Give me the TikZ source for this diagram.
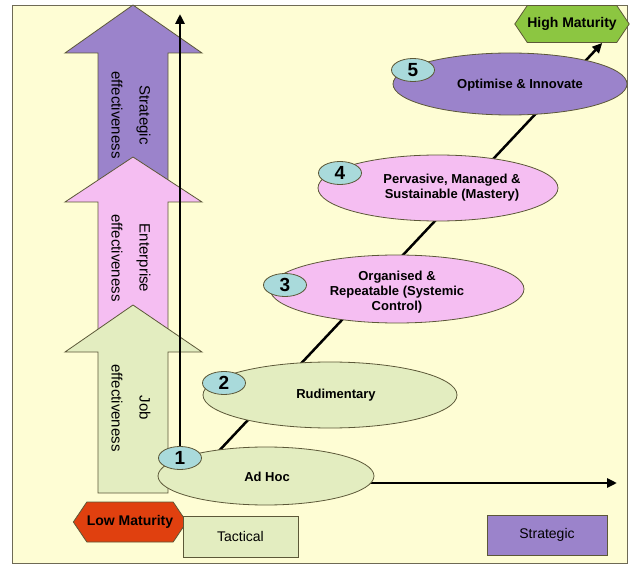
\documentclass[tikz,border=0pt]{standalone}
\usepackage{fontspec}
\setmainfont{Liberation Sans}
\usetikzlibrary{shapes.geometric,shapes.symbols,arrows.meta}

\definecolor{bgyellow}{HTML}{FEFDD4}
\definecolor{framegray}{HTML}{6E6A55}
\definecolor{edgegray}{HTML}{5C5838}
\definecolor{paleGreen}{HTML}{E3EDC0}
\definecolor{pinkish}{HTML}{F5BEF2}
\definecolor{lavender}{HTML}{9B83CB}
\definecolor{numblue}{HTML}{A9DADB}
\definecolor{lowred}{HTML}{E0400F}
\definecolor{highgreen}{HTML}{8CC641}

\begin{document}
\begin{tikzpicture}[x=1pt,y=-1pt,
  outline/.style={draw=edgegray, line width=0.8pt},
  stage/.style={ellipse, outline, inner sep=0pt},
  num/.style={ellipse, outline, fill=numblue, minimum width=43pt,
    minimum height=23pt, inner sep=0pt,
    font=\bfseries\fontsize{19}{19}\selectfont},
  stagetext/.style={align=center, inner sep=1pt,
    font=\bfseries\fontsize{13}{15}\selectfont},
  armtext/.style={align=center, rotate=-90, inner sep=1pt,
    font=\fontsize{15}{28}\selectfont},
  hexa/.style={shape=signal, signal to=west and east,
    signal pointer angle=112, outline, inner sep=0pt,
    font=\bfseries\fontsize{14}{14}\selectfont},
  keybox/.style={rectangle, outline, inner sep=0pt,
    font=\fontsize{14}{14}\selectfont},
  axis/.style={line width=2.5pt, -{Triangle[length=10pt,width=9pt]}},
  bigarrow/.style={outline}
]
\useasboundingbox (0,0) rectangle (630,567);
\fill[white] (0,0) rectangle (630,567);
\draw[fill=bgyellow, draw=framegray, line width=0.8pt] (12,5) rectangle (627,563);

% stacked effectiveness arrows (drawn back to front)
\filldraw[bigarrow, fill=lavender]
  (98,190) -- (98,53) -- (65,53) -- (133,5) -- (202,53) -- (168,53) -- (168,190) -- cycle;
\filldraw[bigarrow, fill=pinkish]
  (98,340) -- (98,202) -- (65,202) -- (133,157) -- (202,202) -- (168,202) -- (168,340) -- cycle;
\filldraw[bigarrow, fill=paleGreen]
  (98,493) -- (98,352) -- (65,352) -- (133,305) -- (202,352) -- (168,352) -- (168,493) -- cycle;

\node[armtext] (tstrat) at (131,115) {Strategic\\effectiveness};
\node[armtext] (tent)   at (131,258) {Enterprise\\effectiveness};
\node[armtext] (tjob)   at (131,408) {Job\\effectiveness};

% axes
\coordinate (origin) at (180,483);
\coordinate (ytip) at (180,14);
\coordinate (xtip) at (617,483);
\draw[axis] (origin) -- (ytip);
\draw[axis] (origin) -- (xtip);

% maturity markers
\node[hexa, fill=highgreen, minimum width=100pt, minimum height=37pt] (highmat) at (572,24) {High Maturity};
\node[hexa, fill=lowred, minimum width=104pt, minimum height=40pt] (lowmat) at (130,522) {Low Maturity};

% maturity path
\coordinate (dstart) at (201,470);
\draw[axis] (dstart) -- (highmat.-32);

% stages
\node[stage, fill=paleGreen, minimum width=216pt, minimum height=58pt] (e1) at (266,476) {};
\node[stage, fill=paleGreen, minimum width=254pt, minimum height=66pt] (e2) at (330,395) {};
\node[stage, fill=pinkish, minimum width=254pt, minimum height=68pt] (e3) at (397,289) {};
\node[stage, fill=pinkish, minimum width=240pt, minimum height=66pt] (e4) at (438,188) {};
\node[stage, fill=lavender, minimum width=234pt, minimum height=62pt] (e5) at (510,84) {};

\node[stagetext] (t1) at (267,477) {Ad Hoc};
\node[stagetext] (t2) at (336,395) {Rudimentary};
\node[stagetext] (t3) at (397,292) {Organised \&\\Repeatable (Systemic\\Control)};
\node[stagetext] (t4) at (452,188) {Pervasive, Managed \&\\Sustainable (Mastery)};
\node[stagetext] (t5) at (520,85) {Optimise \& Innovate};

\node[num] (n1) at (180,458) {1};
\node[num] (n2) at (224,383) {2};
\node[num] (n3) at (285,285) {3};
\node[num] (n4) at (340,173) {4};
\node[num] (n5) at (413,70) {5};

% key boxes
\node[keybox, fill=paleGreen, minimum width=115pt, minimum height=41pt] (tactical) at (240.5,536.5) {Tactical};
\node[keybox, fill=lavender, minimum width=120pt, minimum height=40pt] (strategic) at (547,535) {Strategic};
\end{tikzpicture}
\end{document}
